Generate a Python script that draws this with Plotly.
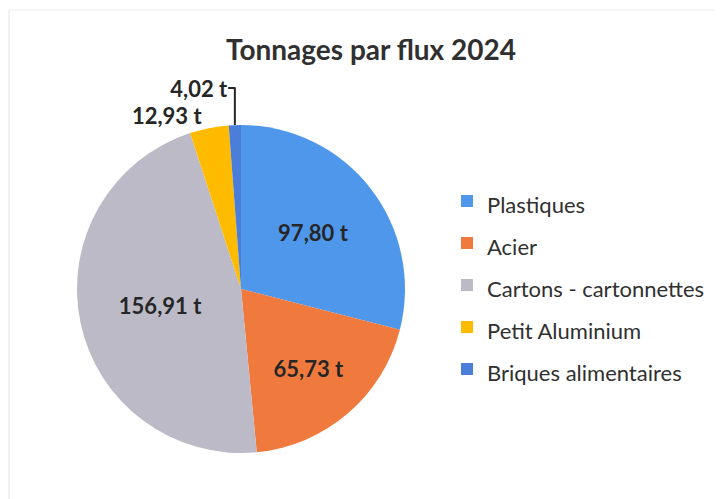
import plotly.graph_objects as go

categories = ["Plastiques", "Acier", "Cartons - cartonnettes", "Petit Aluminium", "Briques alimentaires"]
tonnages = [97.80, 65.73, 156.91, 12.93, 4.02]
value_labels = ["97,80 t", "65,73 t", "156,91 t", "12,93 t", "4,02 t"]
colors = ["#4F97EA", "#F07A3E", "#BBBAC6", "#FFBB00", "#4A7ED9"]
text_positions = ["inside", "inside", "inside", "outside", "outside"]

# page has an 8px body margin; the figure is sized to fit the 723x499 window
OFF = 8
W, H = 723 - OFF, 499 - OFF


def px_x(X):
    return (X - OFF) / W


def px_y(Y):
    return 1 - (Y - OFF) / H


cx, cy, r = 241, 289, 164

legend_names = ['<span style="font-size:22px">' + c + "</span>" for c in categories]

fig = go.Figure(go.Pie(
    labels=legend_names,
    values=tonnages,
    text=value_labels,
    textinfo="text",
    textposition=text_positions,
    insidetextorientation="horizontal",
    sort=False,
    direction="clockwise",
    rotation=0,
    marker=dict(colors=colors, line=dict(width=0)),
    textfont=dict(family="Lato", size=22, color="#262626", weight="bold"),
    hoverinfo="value+percent",
    domain=dict(x=[px_x(cx - r), px_x(cx + r)], y=[px_y(cy + r), px_y(cy - r)]),
))

fig.update_layout(
    width=W, height=H,
    margin=dict(l=0, r=0, t=0, b=0),
    paper_bgcolor="white",
    title=dict(text="<b>Tonnages par flux 2024</b>", x=px_x(371), xanchor="center",
               y=px_y(50), yanchor="middle",
               font=dict(family="Lato", size=28, color="#303030")),
    legend=dict(x=px_x(447), xanchor="left", y=px_y(175), yanchor="top",
                valign="middle", font=dict(family="Lato", size=30, color="#303030"),
                itemclick=False),
    shapes=[
        dict(type="line", xref="paper", yref="paper", x0=px_x(9), x1=px_x(9), y0=0, y1=px_y(10),
             line=dict(color="#e4e4e4", width=1)),
        dict(type="line", xref="paper", yref="paper", x0=px_x(9), x1=1, y0=px_y(10), y1=px_y(10),
             line=dict(color="#ececec", width=1)),
    ],
)

fig.write_html("out.html")
